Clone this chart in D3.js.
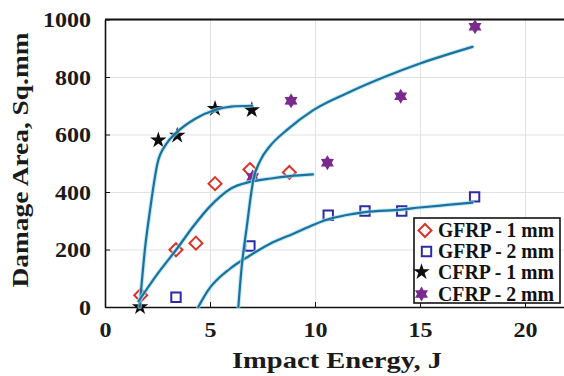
<!DOCTYPE html>
<html><head><meta charset="utf-8">
<script src="https://cdn.jsdelivr.net/npm/d3@7"></script>
<style>html,body{margin:0;padding:0;background:#fff;}svg{display:block;}</style>
</head><body>
<script>
// ---- data ----
const xTicks = [0, 5, 10, 15, 20];
const yTicks = [0, 200, 400, 600, 800, 1000];

const gfrp1X = [1.7, 3.38, 4.33, 5.24, 6.9, 8.78];
const gfrp1Y = [41, 199, 222, 429, 478, 468];
const gfrp2X = [3.38, 6.9, 10.63, 12.38, 14.13, 17.6];
const gfrp2Y = [34, 212, 319, 334, 334, 383];
const cfrp1X = [1.67, 2.54, 3.44, 5.24, 6.99];
const cfrp1Y = [0, 580, 597, 690, 685];
const cfrp2X = [7.03, 8.86, 10.59, 14.08, 17.62];
const cfrp2Y = [452, 717, 502, 733, 975];

// fitted trend curves
const fitCfrp1X = [1.65, 1.9, 2.15, 2.5, 2.9, 3.44, 4.3, 5.24, 6.0, 7.0];
const fitCfrp1Y = [0, 200, 340, 500, 565, 609, 655, 685, 697, 700];
const fitGfrp1X = [1.6, 2.5, 3.4, 4.2, 5.0, 5.5, 6.0, 6.9, 7.9, 8.8, 9.9];
const fitGfrp1Y = [20, 115, 200, 280, 350, 385, 412, 435, 447, 455, 461];
const fitGfrp2X = [4.44, 4.9, 5.95, 6.9, 7.86, 8.97, 10.0, 10.63, 11.5, 12.38, 14.13, 15.0, 16.3, 17.5];
const fitGfrp2Y = [0, 57, 133, 179, 220, 255, 288, 305, 320, 330, 339, 346, 355, 363];
const fitCfrp2X = [6.35, 6.5, 6.75, 7.06, 7.4, 7.86, 8.65, 9.92, 11.5, 13.3, 15.0, 17.5];
const fitCfrp2Y = [0, 133, 278, 441, 510, 560, 615, 685, 743, 800, 847, 905];

const legendLabels = ["GFRP - 1 mm", "GFRP - 2 mm", "CFRP - 1 mm", "CFRP - 2 mm"];

// ---- drawing ----
const W = 564, H = 376;
const FONT = "'Liberation Serif','Times New Roman',serif";
const svg = d3.select("body").append("svg").attr("width", W).attr("height", H);

const x = d3.scaleLinear().domain([0, 22]).range([105, 567]);
const y = d3.scaleLinear().domain([0, 1000]).range([307, 19.5]);

// grid
svg.append("g").attr("transform", `translate(0,${y(0)})`)
  .call(d3.axisBottom(x).tickValues(xTicks).tickSize(-(y(0) - y(1000))).tickFormat(""))
  .call(g => { g.select(".domain").remove(); g.selectAll("line").attr("stroke", "#e2e2e2").attr("stroke-width", 1); });
svg.append("g").attr("transform", `translate(${x(0)},0)`)
  .call(d3.axisLeft(y).tickValues(yTicks).tickSize(-(x(22) - x(0))).tickFormat(""))
  .call(g => { g.select(".domain").remove(); g.selectAll("line").attr("stroke", "#e2e2e2").attr("stroke-width", 1); });

// top border
svg.append("line").attr("x1", x(0)).attr("x2", x(22)).attr("y1", y(1000)).attr("y2", y(1000))
  .attr("stroke", "#111").attr("stroke-width", 2);

// axes
const xAxis = svg.append("g").attr("transform", `translate(0,${y(0)})`)
  .call(d3.axisBottom(x).tickValues(xTicks).tickFormat(d3.format("d")).tickSizeInner(-5).tickSizeOuter(0));
const yAxis = svg.append("g").attr("transform", `translate(${x(0)},0)`)
  .call(d3.axisLeft(y).tickValues(yTicks).tickFormat(d3.format("d")).tickSizeInner(-5).tickSizeOuter(0));
[xAxis, yAxis].forEach(a => {
  a.select(".domain").attr("stroke", "#111").attr("stroke-width", 1.6);
  a.selectAll(".tick line").attr("stroke", "#111").attr("stroke-width", 1);
  a.selectAll("text").attr("font-family", FONT).attr("font-weight", "bold")
    .attr("font-size", 20).attr("fill", "#1a1a1a");
});
xAxis.selectAll("text").attr("y", 30).attr("dy", 0).attr("transform", "scale(1.2,1)");
yAxis.selectAll("text").attr("x", -14 / 1.2).attr("dy", "0.35em").attr("transform", "scale(1.2,1)");

// axis labels
svg.append("text").attr("x", 337).attr("y", 368).attr("text-anchor", "middle")
  .attr("font-family", FONT).attr("font-weight", "bold").attr("font-size", 24).attr("fill", "#1a1a1a")
  .attr("textLength", 210).attr("lengthAdjust", "spacingAndGlyphs")
  .text("Impact Energy, J");
svg.append("text").attr("transform", "translate(28,160) rotate(-90)").attr("text-anchor", "middle")
  .attr("font-family", FONT).attr("font-weight", "bold").attr("font-size", 24).attr("fill", "#1a1a1a")
  .attr("textLength", 255).attr("lengthAdjust", "spacingAndGlyphs")
  .text("Damage Area, Sq.mm");

// marker shapes
const hexagram = (R, r) => {
  const pts = [];
  for (let i = 0; i < 12; i++) {
    const a = -Math.PI / 2 + i * Math.PI / 6;
    const rad = i % 2 === 0 ? R : r;
    pts.push([rad * Math.cos(a), rad * Math.sin(a)]);
  }
  return "M" + pts.map(p => p.join(",")).join("L") + "Z";
};
const styles = [
  { path: d3.symbol(d3.symbolDiamond2, 108)(), fill: "none", stroke: "#d9342b", sw: 2 },
  { path: d3.symbol(d3.symbolSquare2, 112)(), fill: "none", stroke: "#2b2ba6", sw: 2 },
  { path: d3.symbol(d3.symbolStar, 85)(), fill: "#0d0d0d", stroke: "none", sw: 0 },
  { path: hexagram(7.5, 4.4), fill: "#7a2a8c", stroke: "none", sw: 0 }
];
const seriesX = [gfrp1X, gfrp2X, cfrp1X, cfrp2X];
const seriesY = [gfrp1Y, gfrp2Y, cfrp1Y, cfrp2Y];

const plot = svg.append("g");
seriesX.forEach((xs, s) => {
  const st = styles[s];
  plot.append("g").selectAll("path").data(xs.map((v, i) => [v, seriesY[s][i]])).join("path")
    .attr("transform", d => `translate(${x(d[0])},${y(d[1])})`)
    .attr("d", st.path).attr("fill", st.fill).attr("stroke", st.stroke).attr("stroke-width", st.sw);
});

// fit lines
const fits = [[fitCfrp1X, fitCfrp1Y], [fitGfrp1X, fitGfrp1Y], [fitGfrp2X, fitGfrp2Y], [fitCfrp2X, fitCfrp2Y]];
const line = d3.line().x(d => x(d[0])).y(d => y(d[1])).curve(d3.curveMonotoneX);
fits.forEach(([xs, ys]) => {
  const d = line(xs.map((v, i) => [v, ys[i]]));
  plot.append("path").attr("d", d).attr("fill", "none").attr("stroke", "#9fe3f5")
    .attr("stroke-width", 4.2).attr("stroke-opacity", 0.7).attr("stroke-linecap", "round");
  plot.append("path").attr("d", d).attr("fill", "none").attr("stroke", "#1f6f9b")
    .attr("stroke-width", 2.2).attr("stroke-linecap", "round");
});

// legend
const lg = svg.append("g");
lg.append("rect").attr("x", 414).attr("y", 218).attr("width", 146).attr("height", 85)
  .attr("fill", "#fff").attr("stroke", "#111").attr("stroke-width", 1.6);
const legMarkX = [425, 426.5, 421.5, 421.5];
const legRowY = [230.5, 251.5, 272, 294];
legendLabels.forEach((lab, i) => {
  const st = styles[i];
  lg.append("path").attr("transform", `translate(${legMarkX[i]},${legRowY[i]})`)
    .attr("d", st.path).attr("fill", st.fill).attr("stroke", st.stroke).attr("stroke-width", st.sw);
  lg.append("text").attr("x", 438).attr("y", legRowY[i] + 6.5)
    .attr("font-family", FONT).attr("font-weight", "bold").attr("font-size", 20).attr("fill", "#111")
    .attr("textLength", 116).attr("lengthAdjust", "spacingAndGlyphs")
    .text(lab);
});
</script>
</body></html>
